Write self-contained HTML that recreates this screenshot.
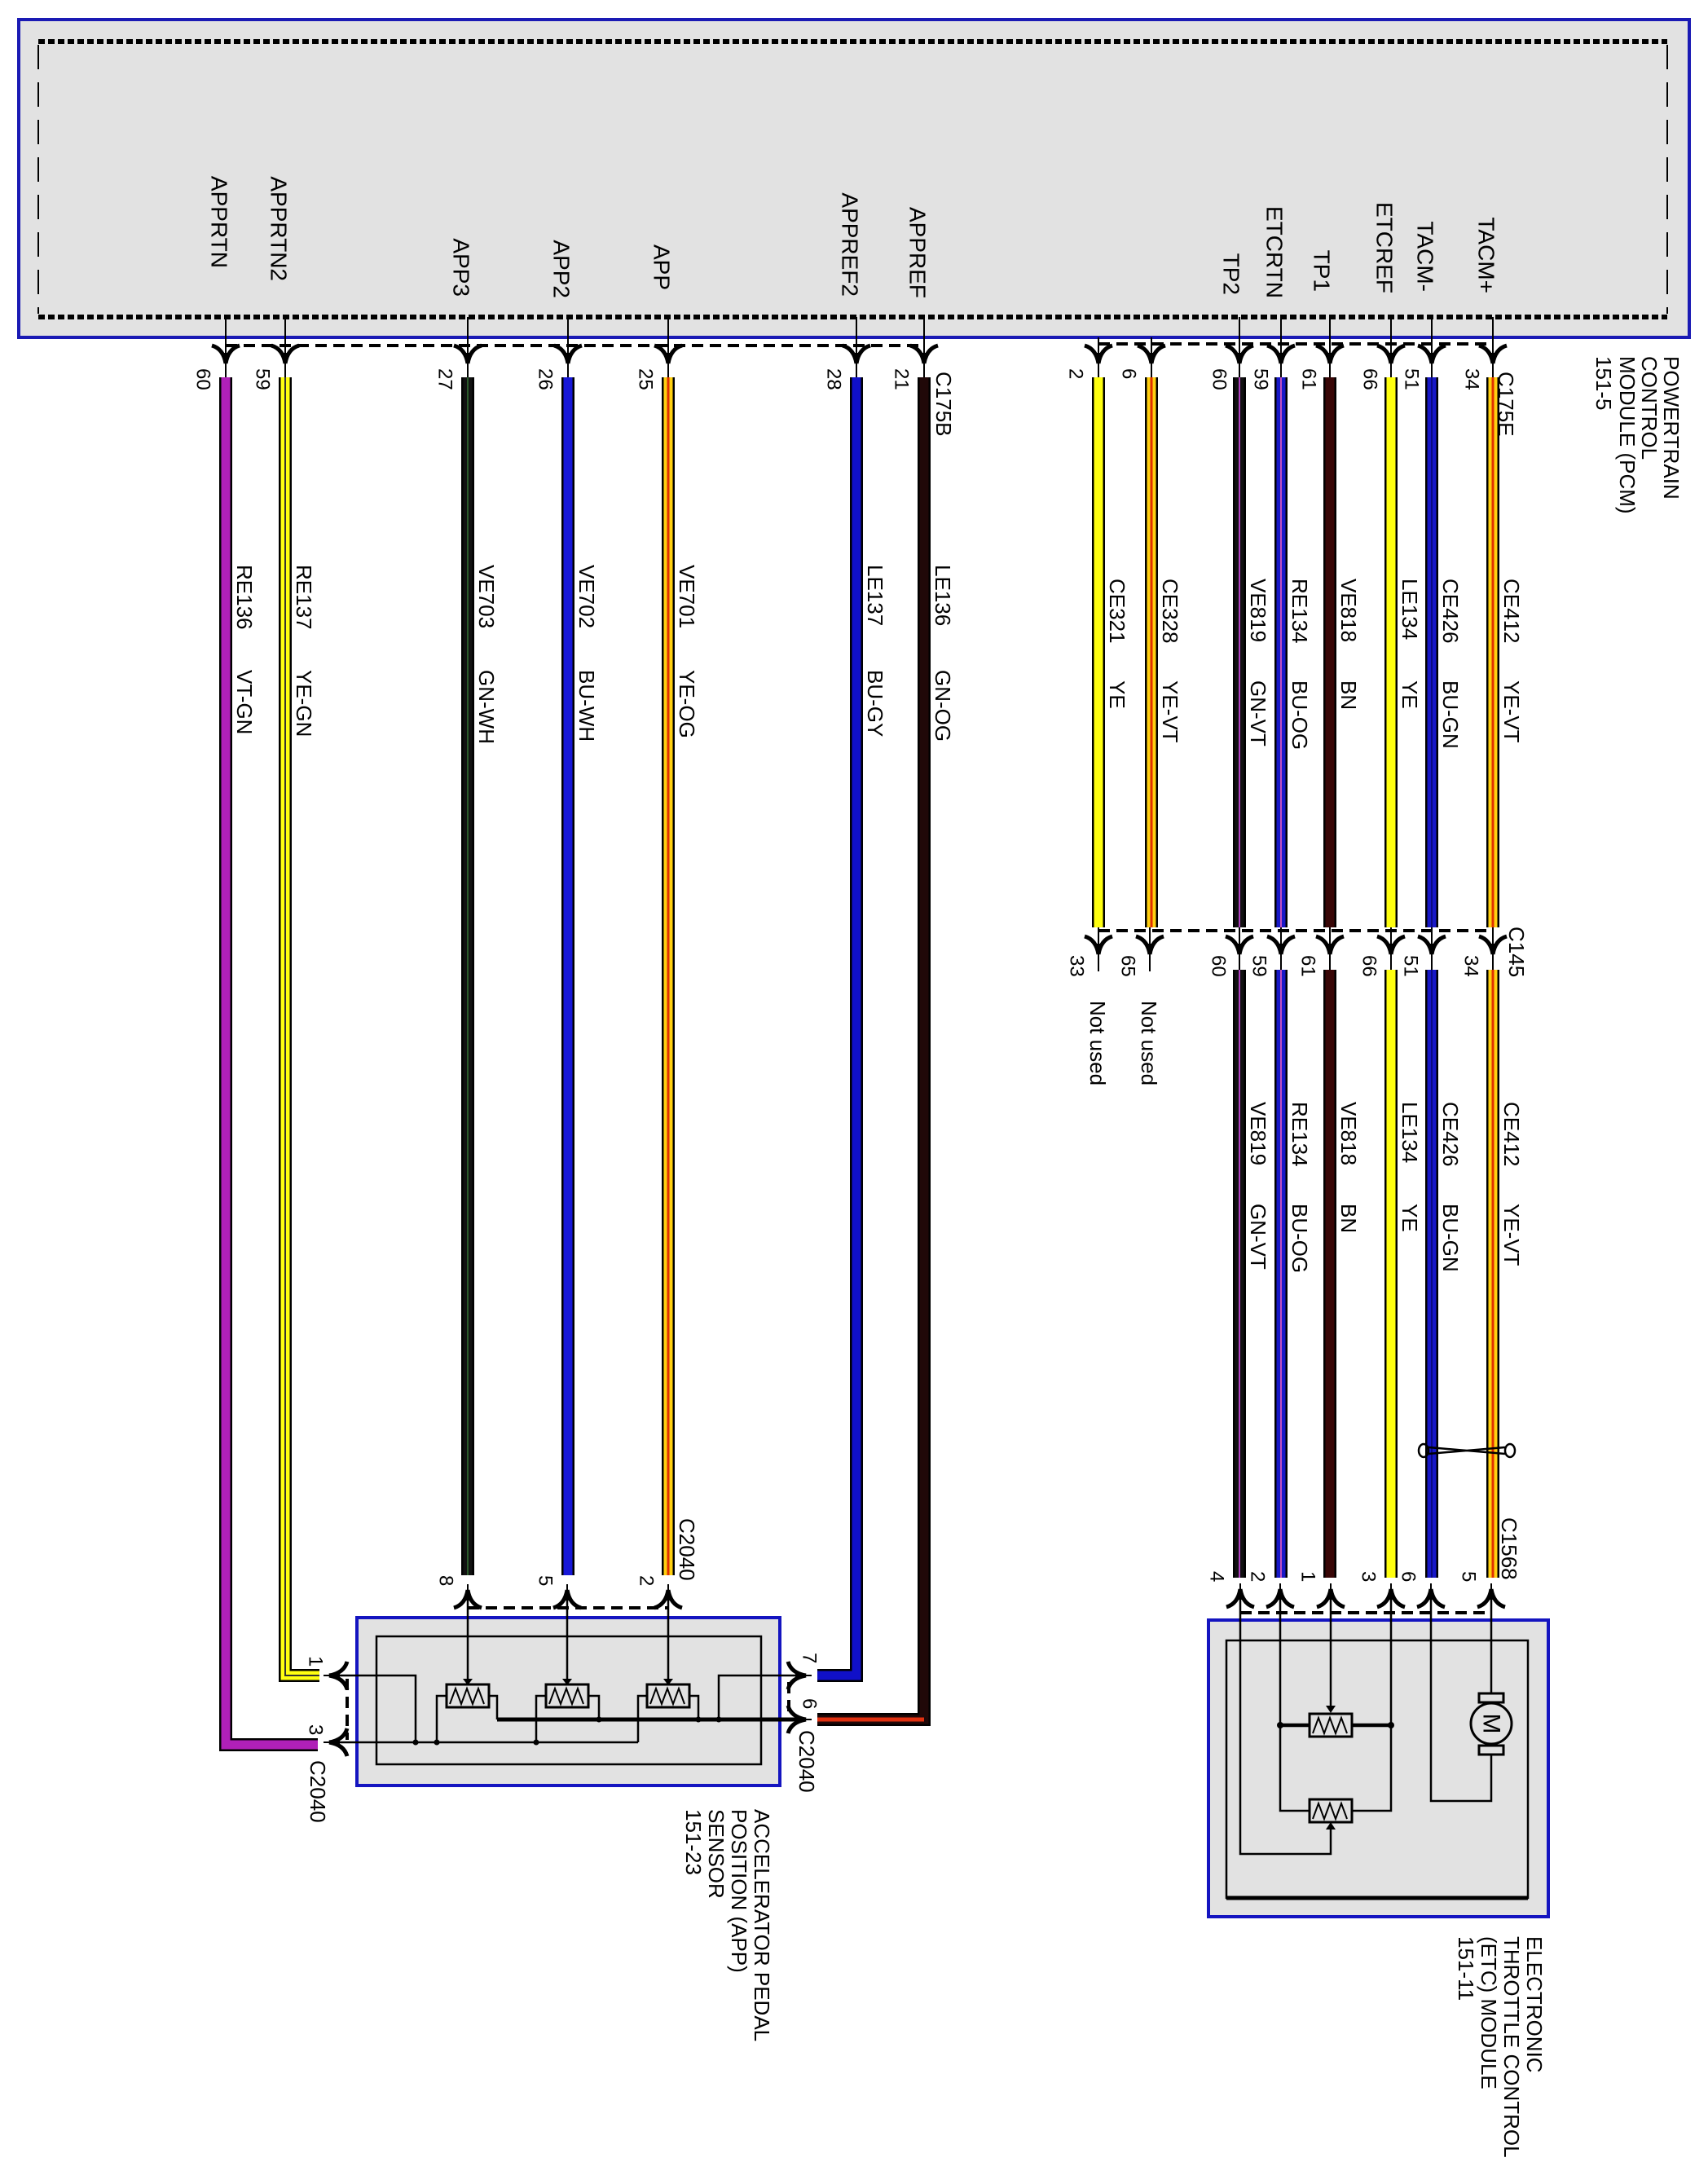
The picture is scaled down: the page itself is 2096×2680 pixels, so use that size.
<!DOCTYPE html>
<html><head><meta charset="utf-8"><style>
html,body{margin:0;padding:0;background:#fff;}
svg{display:block;}
text{font-family:"Liberation Sans",Arial,sans-serif;fill:#000;}
.pl{font-size:28px;}
.pn{font-size:24px;}
.wl{font-size:26px;}
.cl{font-size:26px;}
</style></head><body>
<svg width="2096" height="2680" viewBox="0 0 2096 2680" xmlns="http://www.w3.org/2000/svg">
<defs>
<g id="cd">
<line x1="0" y1="-16" x2="0" y2="16" stroke="#000" stroke-width="2"/>
<path d="M-17,-13 Q-3,-9 0,9 M17,-13 Q3,-9 0,9" stroke="#000" stroke-width="5" fill="none"/>
<path d="M-7,-4 L7,-4 L0,10 Z" fill="#000"/>
</g>
<g id="zz">
<rect x="-26" y="-14" width="52" height="28" fill="#e2e2e2" stroke="#000" stroke-width="3"/>
<path d="M-22,10 L-15,-9 L-8,10 L-1,-9 L6,10 L13,-9 L20,10" stroke="#000" stroke-width="2" fill="none"/>
</g>
</defs>

<rect x="23" y="24" width="2050" height="390" fill="#e2e2e2" stroke="#1a1ab4" stroke-width="4"/>
<line x1="47" y1="51" x2="2046" y2="51" stroke="#000" stroke-width="6" stroke-dasharray="8 4"/>
<line x1="47" y1="389" x2="2046" y2="389" stroke="#000" stroke-width="6" stroke-dasharray="8 4"/>
<line x1="47" y1="55" x2="47" y2="385" stroke="#000" stroke-width="2" stroke-dasharray="30 16"/>
<line x1="2046" y1="55" x2="2046" y2="385" stroke="#000" stroke-width="2" stroke-dasharray="30 16"/>

<g class="pl" text-anchor="end" dominant-baseline="central">
<text transform="translate(269,329) rotate(90)">APPRTN</text>
<text transform="translate(342,345) rotate(90)">APPRTN2</text>
<text transform="translate(566,364) rotate(90)">APP3</text>
<text transform="translate(689,366) rotate(90)">APP2</text>
<text transform="translate(812,356) rotate(90)">APP</text>
<text transform="translate(1043,364) rotate(90)">APPREF2</text>
<text transform="translate(1126,366) rotate(90)">APPREF</text>
<text transform="translate(1511,362) rotate(90)">TP2</text>
<text transform="translate(1564,366) rotate(90)">ETCRTN</text>
<text transform="translate(1622,358) rotate(90)">TP1</text>
<text transform="translate(1699,360) rotate(90)">ETCREF</text>
<text transform="translate(1749,358) rotate(90)">TACM-</text>
<text transform="translate(1824,360) rotate(90)">TACM+</text>
</g>

<g stroke="#000" stroke-width="2">
<line x1="277" y1="389" x2="277" y2="463"/><line x1="350" y1="389" x2="350" y2="463"/>
<line x1="574" y1="389" x2="574" y2="463"/><line x1="697" y1="389" x2="697" y2="463"/>
<line x1="820" y1="389" x2="820" y2="463"/><line x1="1051" y1="389" x2="1051" y2="463"/>
<line x1="1134" y1="389" x2="1134" y2="463"/>
<line x1="1348" y1="414" x2="1348" y2="463"/><line x1="1413" y1="414" x2="1413" y2="463"/>
<line x1="1521" y1="389" x2="1521" y2="463"/><line x1="1572" y1="389" x2="1572" y2="463"/>
<line x1="1632" y1="389" x2="1632" y2="463"/><line x1="1707" y1="389" x2="1707" y2="463"/>
<line x1="1757" y1="389" x2="1757" y2="463"/><line x1="1832" y1="389" x2="1832" y2="463"/>
</g>
<g stroke="#000" stroke-width="4" stroke-dasharray="14 8">
<line x1="277" y1="424" x2="1134" y2="424"/>
<line x1="1348" y1="422" x2="1832" y2="422"/>
<line x1="1348" y1="1142" x2="1832" y2="1142"/>
<line x1="574" y1="1973" x2="820" y2="1973"/>
<line x1="1522" y1="1979" x2="1830" y2="1979"/>
<line x1="426" y1="2060" x2="426" y2="2135"/>
<line x1="968" y1="2064" x2="968" y2="2104"/>
</g>
<g>
<use href="#cd" transform="translate(277,437)"/><use href="#cd" transform="translate(350,437)"/>
<use href="#cd" transform="translate(574,437)"/><use href="#cd" transform="translate(697,437)"/>
<use href="#cd" transform="translate(820,437)"/><use href="#cd" transform="translate(1051,437)"/>
<use href="#cd" transform="translate(1134,437)"/>
<use href="#cd" transform="translate(1348,437)"/><use href="#cd" transform="translate(1413,437)"/>
<use href="#cd" transform="translate(1521,437)"/><use href="#cd" transform="translate(1572,437)"/>
<use href="#cd" transform="translate(1632,437)"/><use href="#cd" transform="translate(1707,437)"/>
<use href="#cd" transform="translate(1757,437)"/><use href="#cd" transform="translate(1832,437)"/>
<use href="#cd" transform="translate(1348,1162)"/><use href="#cd" transform="translate(1411,1162)"/>
<use href="#cd" transform="translate(1521,1162)"/><use href="#cd" transform="translate(1572,1162)"/>
<use href="#cd" transform="translate(1632,1162)"/><use href="#cd" transform="translate(1707,1162)"/>
<use href="#cd" transform="translate(1757,1162)"/><use href="#cd" transform="translate(1832,1162)"/>
<use href="#cd" transform="translate(574,1960) rotate(180)"/><use href="#cd" transform="translate(696,1960) rotate(180)"/>
<use href="#cd" transform="translate(820,1960) rotate(180)"/>
<use href="#cd" transform="translate(1522,1959) rotate(180)"/><use href="#cd" transform="translate(1571,1959) rotate(180)"/>
<use href="#cd" transform="translate(1633,1959) rotate(180)"/><use href="#cd" transform="translate(1707,1959) rotate(180)"/>
<use href="#cd" transform="translate(1756,1959) rotate(180)"/><use href="#cd" transform="translate(1830,1959) rotate(180)"/>
</g>
<g stroke="#000" stroke-width="2">
<line x1="1348" y1="1138" x2="1348" y2="1190"/><line x1="1411" y1="1138" x2="1411" y2="1190"/>
<line x1="1521" y1="1138" x2="1521" y2="1190"/><line x1="1572" y1="1138" x2="1572" y2="1190"/>
<line x1="1632" y1="1138" x2="1632" y2="1190"/><line x1="1707" y1="1138" x2="1707" y2="1190"/>
<line x1="1757" y1="1138" x2="1757" y2="1190"/><line x1="1832" y1="1138" x2="1832" y2="1190"/>
</g>

<g fill="none" stroke-linejoin="miter">
<g stroke="#000" stroke-width="16">
<path d="M277 463 V2141 H390"/><path d="M350 463 V2056 H392"/>
<path d="M574 463 V1933"/><path d="M697 463 V1933"/><path d="M820 463 V1933"/>
<path d="M1051 463 V2056 H1003"/><path d="M1134 463 V2110 H1003"/>
<path d="M1348 463 V1138"/><path d="M1413 463 V1138"/><path d="M1521 463 V1138"/>
<path d="M1572 463 V1138"/><path d="M1632 463 V1138"/><path d="M1707 463 V1138"/>
<path d="M1757 463 V1138"/><path d="M1832 463 V1138"/>
<path d="M1521 1190 V1936"/><path d="M1572 1190 V1936"/><path d="M1632 1190 V1936"/>
<path d="M1707 1190 V1936"/><path d="M1757 1190 V1936"/><path d="M1832 1190 V1936"/>
</g>
<g stroke-width="11">
<path d="M277 463 V2141 H390" stroke="#b020b8"/>
<path d="M350 463 V2056 H392" stroke="#ffff10"/>
<path d="M574 463 V1933" stroke="#111"/>
<path d="M697 463 V1933" stroke="#1818d8"/>
<path d="M820 463 V1933" stroke="#ffd010"/>
<path d="M1051 463 V2056 H1003" stroke="#1010c8"/>
<path d="M1134 463 V2110 H1003" stroke="#200808"/>
<path d="M1348 463 V1138" stroke="#ffff10"/>
<path d="M1413 463 V1138" stroke="#ffd010"/>
<path d="M1521 463 V1138" stroke="#111"/>
<path d="M1572 463 V1138" stroke="#1818c8"/>
<path d="M1632 463 V1138" stroke="#380606"/>
<path d="M1707 463 V1138" stroke="#ffff10"/>
<path d="M1757 463 V1138" stroke="#1818c8"/>
<path d="M1832 463 V1138" stroke="#ffd010"/>
<path d="M1521 1190 V1936" stroke="#111"/>
<path d="M1572 1190 V1936" stroke="#1818c8"/>
<path d="M1632 1190 V1936" stroke="#380606"/>
<path d="M1707 1190 V1936" stroke="#ffff10"/>
<path d="M1757 1190 V1936" stroke="#1818c8"/>
<path d="M1832 1190 V1936" stroke="#ffd010"/>
</g>
<g stroke-width="2">
<path d="M350 463 V2056 H392" stroke="#333"/>
<path d="M574 463 V1933" stroke="#2a5a2a"/>
<path d="M1521 463 V1138" stroke="#b040c0"/><path d="M1521 1190 V1936" stroke="#b040c0"/>
<path d="M1572 463 V1138" stroke="#c050c0"/><path d="M1572 1190 V1936" stroke="#c050c0"/>
<path d="M1757 463 V1138" stroke="#0a0a80"/><path d="M1757 1190 V1936" stroke="#0a0a80"/>
</g>
<g stroke-width="3">
<path d="M820 463 V1933" stroke="#e03000"/>
<path d="M1413 463 V1138" stroke="#e03000"/>
<path d="M1832 463 V1138" stroke="#e03000"/><path d="M1832 1190 V1936" stroke="#e03000"/>
<path d="M1134 2110 H1003" stroke="#e03010" stroke-width="5"/>
</g>
</g>

<g stroke="#000" stroke-width="2"><line x1="1348" y1="1162" x2="1348" y2="1192"/><line x1="1411" y1="1162" x2="1411" y2="1192"/></g>

<g class="pn" dominant-baseline="central">
<text transform="translate(249,452) rotate(90)">60</text>
<text transform="translate(322,452) rotate(90)">59</text>
<text transform="translate(546,452) rotate(90)">27</text>
<text transform="translate(669,452) rotate(90)">26</text>
<text transform="translate(792,452) rotate(90)">25</text>
<text transform="translate(1023,452) rotate(90)">28</text>
<text transform="translate(1106,452) rotate(90)">21</text>
<text transform="translate(1320,452) rotate(90)">2</text>
<text transform="translate(1385,452) rotate(90)">6</text>
<text transform="translate(1496,452) rotate(90)">60</text>
<text transform="translate(1547,452) rotate(90)">59</text>
<text transform="translate(1606,452) rotate(90)">61</text>
<text transform="translate(1681,452) rotate(90)">66</text>
<text transform="translate(1732,452) rotate(90)">51</text>
<text transform="translate(1806,452) rotate(90)">34</text>
<text transform="translate(1321,1172) rotate(90)">33</text>
<text transform="translate(1384,1172) rotate(90)">65</text>
<text transform="translate(1495,1172) rotate(90)">60</text>
<text transform="translate(1545,1172) rotate(90)">59</text>
<text transform="translate(1605,1172) rotate(90)">61</text>
<text transform="translate(1680,1172) rotate(90)">66</text>
<text transform="translate(1731,1172) rotate(90)">51</text>
<text transform="translate(1805,1172) rotate(90)">34</text>
<text transform="translate(547,1933) rotate(90)">8</text>
<text transform="translate(669,1933) rotate(90)">5</text>
<text transform="translate(793,1933) rotate(90)">2</text>
<text transform="translate(387,2032) rotate(90)">1</text>
<text transform="translate(387,2116) rotate(90)">3</text>
<text transform="translate(993,2028) rotate(90)">7</text>
<text transform="translate(993,2084) rotate(90)">6</text>
<text transform="translate(1493,1928) rotate(90)">4</text>
<text transform="translate(1543,1928) rotate(90)">2</text>
<text transform="translate(1605,1928) rotate(90)">1</text>
<text transform="translate(1679,1928) rotate(90)">3</text>
<text transform="translate(1728,1928) rotate(90)">6</text>
<text transform="translate(1802,1928) rotate(90)">5</text>
</g>

<g class="cl" dominant-baseline="central">
<text transform="translate(1158,456) rotate(90)">C175B</text>
<text transform="translate(1848,456) rotate(90)">C175E</text>
<text transform="translate(1861,1137) rotate(90)">C145</text>
<text transform="translate(1852,1862) rotate(90)">C1568</text>
<text transform="translate(843,1863) rotate(90)">C2040</text>
<text transform="translate(390,2160) rotate(90)">C2040</text>
<text transform="translate(990,2123) rotate(90)">C2040</text>
<text transform="translate(1347,1228) rotate(90)">Not used</text>
<text transform="translate(1410,1228) rotate(90)">Not used</text>
</g>

<g class="wl" dominant-baseline="central">
<text transform="translate(300,693) rotate(90)">RE136</text><text transform="translate(300,822) rotate(90)">VT-GN</text>
<text transform="translate(373,693) rotate(90)">RE137</text><text transform="translate(373,822) rotate(90)">YE-GN</text>
<text transform="translate(597,693) rotate(90)">VE703</text><text transform="translate(597,822) rotate(90)">GN-WH</text>
<text transform="translate(720,693) rotate(90)">VE702</text><text transform="translate(720,822) rotate(90)">BU-WH</text>
<text transform="translate(843,693) rotate(90)">VE701</text><text transform="translate(843,822) rotate(90)">YE-OG</text>
<text transform="translate(1074,693) rotate(90)">LE137</text><text transform="translate(1074,822) rotate(90)">BU-GY</text>
<text transform="translate(1157,693) rotate(90)">LE136</text><text transform="translate(1157,822) rotate(90)">GN-OG</text>
<text transform="translate(1371,710) rotate(90)">CE321</text><text transform="translate(1371,835) rotate(90)">YE</text>
<text transform="translate(1436,710) rotate(90)">CE328</text><text transform="translate(1436,835) rotate(90)">YE-VT</text>
<text transform="translate(1544,710) rotate(90)">VE819</text><text transform="translate(1544,835) rotate(90)">GN-VT</text>
<text transform="translate(1595,710) rotate(90)">RE134</text><text transform="translate(1595,835) rotate(90)">BU-OG</text>
<text transform="translate(1655,710) rotate(90)">VE818</text><text transform="translate(1655,835) rotate(90)">BN</text>
<text transform="translate(1730,710) rotate(90)">LE134</text><text transform="translate(1730,835) rotate(90)">YE</text>
<text transform="translate(1780,710) rotate(90)">CE426</text><text transform="translate(1780,835) rotate(90)">BU-GN</text>
<text transform="translate(1855,710) rotate(90)">CE412</text><text transform="translate(1855,835) rotate(90)">YE-VT</text>
<text transform="translate(1544,1352) rotate(90)">VE819</text><text transform="translate(1544,1477) rotate(90)">GN-VT</text>
<text transform="translate(1595,1352) rotate(90)">RE134</text><text transform="translate(1595,1477) rotate(90)">BU-OG</text>
<text transform="translate(1655,1352) rotate(90)">VE818</text><text transform="translate(1655,1477) rotate(90)">BN</text>
<text transform="translate(1730,1352) rotate(90)">LE134</text><text transform="translate(1730,1477) rotate(90)">YE</text>
<text transform="translate(1780,1352) rotate(90)">CE426</text><text transform="translate(1780,1477) rotate(90)">BU-GN</text>
<text transform="translate(1855,1352) rotate(90)">CE412</text><text transform="translate(1855,1477) rotate(90)">YE-VT</text>
</g>

<g class="cl" dominant-baseline="central">
<text transform="translate(2051,437) rotate(90)">POWERTRAIN</text>
<text transform="translate(2024,437) rotate(90)">CONTROL</text>
<text transform="translate(1997,437) rotate(90)">MODULE (PCM)</text>
<text transform="translate(1968,437) rotate(90)">151-5</text>
<text transform="translate(935,2220) rotate(90)">ACCELERATOR PEDAL</text>
<text transform="translate(907,2220) rotate(90)">POSITION (APP)</text>
<text transform="translate(879,2220) rotate(90)">SENSOR</text>
<text transform="translate(851,2220) rotate(90)">151-23</text>
<text transform="translate(1883,2376) rotate(90)">ELECTRONIC</text>
<text transform="translate(1855,2376) rotate(90)">THROTTLE CONTROL</text>
<text transform="translate(1827,2376) rotate(90)">(ETC) MODULE</text>
<text transform="translate(1799,2376) rotate(90)">151-11</text>
</g>

<g stroke="#000" stroke-width="2.5" fill="none">
<ellipse cx="1747" cy="1780" rx="6" ry="8"/>
<ellipse cx="1853" cy="1780" rx="6" ry="8"/>
<path d="M1753 1776 L1847 1784 M1753 1784 L1847 1776"/>
</g>

<rect x="438" y="1985" width="519" height="206" fill="#e2e2e2" stroke="#1414c0" stroke-width="4"/>
<rect x="462" y="2008" width="472" height="157" fill="none" stroke="#000" stroke-width="2.5"/>
<g stroke="#000" stroke-width="2.5" fill="none">
<line x1="574" y1="1960" x2="574" y2="2062"/>
<line x1="696" y1="1960" x2="696" y2="2062"/>
<line x1="820" y1="1960" x2="820" y2="2062"/>
<path d="M413 2056 H510 V2138"/>
<path d="M413 2138 H783"/>
<path d="M548 2081 H536 V2138"/><path d="M600 2081 H610 V2110"/>
<path d="M670 2081 H658 V2138"/><path d="M722 2081 H735 V2110"/>
<path d="M794 2081 H783 V2138"/><path d="M846 2081 H857 V2110"/>
<path d="M980 2056 H882 V2110"/>
</g>
<line x1="610" y1="2110" x2="985" y2="2110" stroke="#000" stroke-width="5"/>
<g fill="#000">
<circle cx="510" cy="2138" r="3.5"/><circle cx="536" cy="2138" r="3.5"/><circle cx="658" cy="2138" r="3.5"/>
<circle cx="735" cy="2110" r="3.5"/><circle cx="857" cy="2110" r="3.5"/><circle cx="882" cy="2110" r="3.5"/>
<path d="M568 2060 L580 2060 L574 2068 Z"/><path d="M690 2060 L702 2060 L696 2068 Z"/><path d="M814 2060 L826 2060 L820 2068 Z"/>
</g>
<use href="#zz" transform="translate(574,2081)"/>
<use href="#zz" transform="translate(696,2081)"/>
<use href="#zz" transform="translate(820,2081)"/>
<use href="#cd" transform="translate(413,2056) rotate(90)"/>
<use href="#cd" transform="translate(413,2138) rotate(90)"/>
<use href="#cd" transform="translate(980,2056) rotate(-90)"/>
<use href="#cd" transform="translate(980,2110) rotate(-90)"/>

<rect x="1483" y="1988" width="417" height="364" fill="#e2e2e2" stroke="#1414c0" stroke-width="4"/>
<rect x="1505" y="2013" width="370" height="316" fill="none" stroke="#000" stroke-width="2.5"/>
<line x1="1505" y1="2329" x2="1875" y2="2329" stroke="#000" stroke-width="5"/>
<g stroke="#000" stroke-width="2.5" fill="none">
<path d="M1522 1959 V2275 H1633 V2245"/>
<path d="M1571 1959 V2222 H1608"/>
<path d="M1633 1959 V2094"/>
<path d="M1707 1959 V2222 H1659"/>
<path d="M1756 1959 V2210 H1830 V2153"/>
<path d="M1830 1959 V2078"/>
</g>
<line x1="1571" y1="2117" x2="1707" y2="2117" stroke="#000" stroke-width="4.5"/>
<g fill="#000">
<circle cx="1571" cy="2117" r="4"/><circle cx="1707" cy="2117" r="4"/>
<path d="M1627 2093 L1639 2093 L1633 2102 Z"/>
<path d="M1627 2245 L1639 2245 L1633 2236 Z"/>
</g>
<use href="#zz" transform="translate(1633,2117)"/>
<use href="#zz" transform="translate(1633,2222)"/>
<g stroke="#000" stroke-width="3" fill="#e2e2e2">
<rect x="1815" y="2078" width="30" height="11"/>
<rect x="1815" y="2142" width="30" height="11"/>
<circle cx="1830" cy="2115" r="25"/>
</g>
<text transform="translate(1830,2115) rotate(90)" text-anchor="middle" dominant-baseline="central" style="font-size:30px">M</text>
</svg>
</body></html>
